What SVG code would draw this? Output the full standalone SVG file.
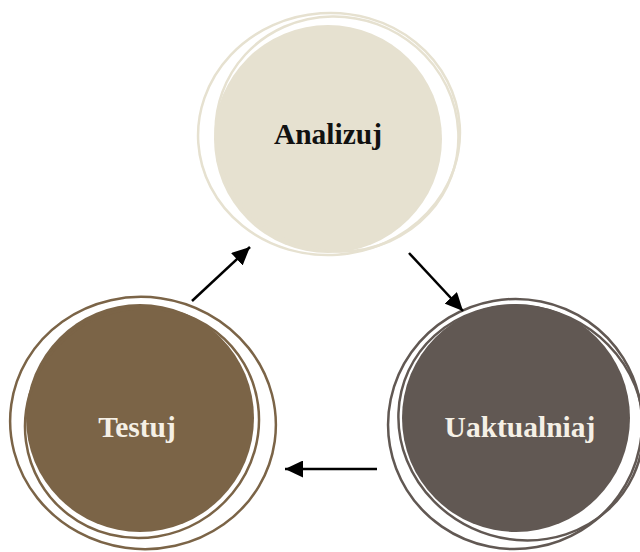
<svg xmlns="http://www.w3.org/2000/svg" width="640" height="552" viewBox="0 0 640 552">
  <style>
    .lbl { font-family: "Liberation Serif", "DejaVu Serif", serif; font-weight: bold; font-size: 29.5px; text-anchor: middle; }
    .ring { fill: none; stroke-width: 2.5; }
    .conn { stroke: #000; stroke-width: 2.5; fill: none; }
  </style>
  <defs>
    <marker id="arrow" markerUnits="userSpaceOnUse" markerWidth="19" markerHeight="17" refX="18" refY="8.5" orient="auto">
      <path d="M0,0 L18,8.5 L0,17 z" fill="#000"/>
    </marker>
  </defs>
  <rect width="640" height="552" fill="#fff"/>

  <g id="node-analizuj">
    <circle cx="328" cy="139" r="114" fill="#e6e1d0"/>
    <ellipse class="ring" stroke="#e6e1d0" cx="329" cy="134" rx="131" ry="121" transform="rotate(-4 329 134)"/>
    <ellipse class="ring" stroke="#e6e1d0" cx="337" cy="134" rx="122" ry="117" transform="rotate(20 337 134)"/>
    <text class="lbl" x="328" y="144" fill="#111">Analizuj</text>
  </g>

  <g id="node-testuj">
    <circle cx="140" cy="418" r="114" fill="#7b6447"/>
    <ellipse class="ring" stroke="#7b6447" cx="143" cy="423" rx="133" ry="126" transform="rotate(8 143 423)"/>
    <ellipse class="ring" stroke="#7b6447" cx="142" cy="423" rx="118" ry="114" transform="rotate(-30 142 423)"/>
    <text class="lbl" x="137" y="437" fill="#f5f0e6">Testuj</text>
  </g>

  <g id="node-uaktualniaj">
    <circle cx="516" cy="418" r="114" fill="#615853"/>
    <ellipse class="ring" stroke="#615853" cx="515" cy="424" rx="127" ry="125" transform="rotate(-10 515 424)"/>
    <ellipse class="ring" stroke="#615853" cx="521" cy="423" rx="124" ry="116" transform="rotate(25 521 423)"/>
    <text class="lbl" x="520" y="437" fill="#f5f0e6">Uaktualniaj</text>
  </g>

  <g id="connectors">
    <line class="conn" x1="192" y1="301" x2="250" y2="247" marker-end="url(#arrow)"/>
    <line class="conn" x1="409" y1="253" x2="463" y2="311" marker-end="url(#arrow)"/>
    <line class="conn" x1="377" y1="469" x2="285" y2="469" marker-end="url(#arrow)"/>
  </g>
</svg>
